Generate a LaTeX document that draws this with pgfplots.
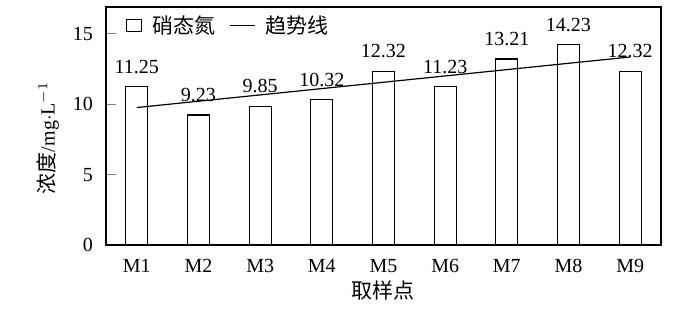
\documentclass[border=0pt]{standalone}
\usepackage{fontspec}
\setmainfont{Liberation Serif}
\newfontfamily\cjk{Noto Sans CJK SC}
\usepackage{pgfplots}
\pgfplotsset{compat=1.18}
\begin{document}
\fontsize{10}{12}\selectfont
\begin{tikzpicture}
\begin{axis}[
  at={(0,0)}, anchor=south west,
  scale only axis,
  width=277.5pt, height=119pt,
  xmin=0.5, xmax=9.5, ymin=0, ymax=16.9,
  axis line style={line width=0.6pt},
  xtick={1,...,9},
  xticklabels={M1,M2,M3,M4,M5,M6,M7,M8,M9},
  xtick style={draw=none},
  ytick={0,5,10,15},
  ytick pos=left, tick align=inside,
  major tick length=5pt,
  ytick style={line width=0.6pt},
  /pgf/number format/assume math mode=true,
  tick label style={font=\fontsize{10}{12}\selectfont},
  xticklabel style={yshift=-3.5pt},
  yticklabel style={xshift=-3pt},
  ylabel={{\cjk\fontsize{10.5}{12}\selectfont 浓度}/mg$\cdot$L$^{-1}$},
  ylabel style={font=\fontsize{10}{12}\selectfont, at={(axis description cs:0,0.45)}, anchor=center, yshift=29pt},
  xlabel={\cjk 取样点},
  xlabel style={font=\fontsize{10.5}{12}\selectfont, at={(axis description cs:0.5,0)}, anchor=center, yshift=-22.5pt},
  legend style={draw=none, fill=none, at={(0.025,1.0)}, anchor=north west,
    font=\fontsize{10.5}{12}\selectfont, legend columns=2,
    /tikz/every odd column/.append style={column sep=3pt},
    /tikz/every even column/.append style={column sep=5pt}},
  legend image code/.code={},
]
\addplot[ybar, bar width=11pt, draw=black, fill=white, line width=0.6pt,
  nodes near coords, point meta=explicit symbolic,
  nodes near coords style={anchor=south, yshift=3pt, font=\fontsize{10}{12}\selectfont, black},
  legend image code/.code={\draw[line width=0.5pt] (0pt,-3pt) rectangle (7.5pt,3pt);}]
  table[meta=lab] {
x y lab
1 11.25 11.25
2 9.23 9.23
3 9.85 9.85
4 10.32 10.32
5 12.32 12.32
6 11.23 11.23
7 13.21 13.21
8 14.23 14.23
9 12.32 12.32
};
\addlegendentry{\cjk 硝态氮}
\addplot[black, line width=0.6pt, mark=none,
  legend image code/.code={\draw[line width=0.6pt] (0pt,0pt) -- (12.5pt,0pt);}]
  coordinates {(1,9.76) (9,13.35)};
\addlegendentry{\cjk 趋势线}
\end{axis}
\useasboundingbox (-53pt,-34.5pt) rectangle (297pt,122.5pt);
\end{tikzpicture}
\end{document}
